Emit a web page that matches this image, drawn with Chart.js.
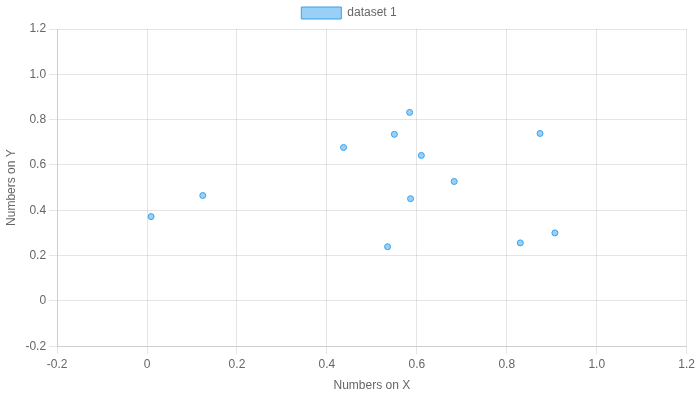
<!DOCTYPE html>
<html>
<head>
<meta charset="utf-8">
<script src="https://cdn.jsdelivr.net/npm/chart.js@4/dist/chart.umd.min.js"></script>
<style>
html,body{margin:0;padding:0;background:#fff;}
#wrap{width:698px;height:398px;}
</style>
</head>
<body>
<div id="wrap"><canvas id="c"></canvas></div>
<script>
const xValues = [0.009, 0.124, 0.437, 0.535, 0.550, 0.584, 0.586, 0.610, 0.683, 0.830, 0.874, 0.907];
const yValues = [0.372, 0.465, 0.677, 0.239, 0.735, 0.832, 0.451, 0.642, 0.527, 0.256, 0.739, 0.300];
const seriesLabel = 'dataset 1';

const points = xValues.map((x, i) => ({x: x, y: yValues[i]}));

Chart.defaults.font.family = "'Liberation Sans', Arial, Helvetica, sans-serif";
Chart.defaults.color = '#666';

const fmt = v => Math.abs(v) < 1e-9 ? '0' : v.toFixed(1);

new Chart(document.getElementById('c'), {
  type: 'scatter',
  data: {
    datasets: [{
      label: seriesLabel,
      data: points,
      backgroundColor: 'rgba(54,162,235,0.5)',
      borderColor: 'rgb(54,162,235)',
      borderWidth: 1,
      pointRadius: 3
    }]
  },
  options: {
    responsive: true,
    maintainAspectRatio: false,
    animation: false,
    layout: { padding: { bottom: 1 } },
    plugins: {
      legend: { display: true, position: 'top', labels: { padding: 7 } },
      tooltip: { enabled: false }
    },
    scales: {
      x: {
        type: 'linear',
        min: -0.2, max: 1.2,
        ticks: { stepSize: 0.2, callback: fmt },
        title: { display: true, text: 'Numbers on X' }
      },
      y: {
        type: 'linear',
        min: -0.2, max: 1.2,
        ticks: { stepSize: 0.2, callback: fmt },
        title: { display: true, text: 'Numbers on Y' }
      }
    }
  }
});
</script>
</body>
</html>
